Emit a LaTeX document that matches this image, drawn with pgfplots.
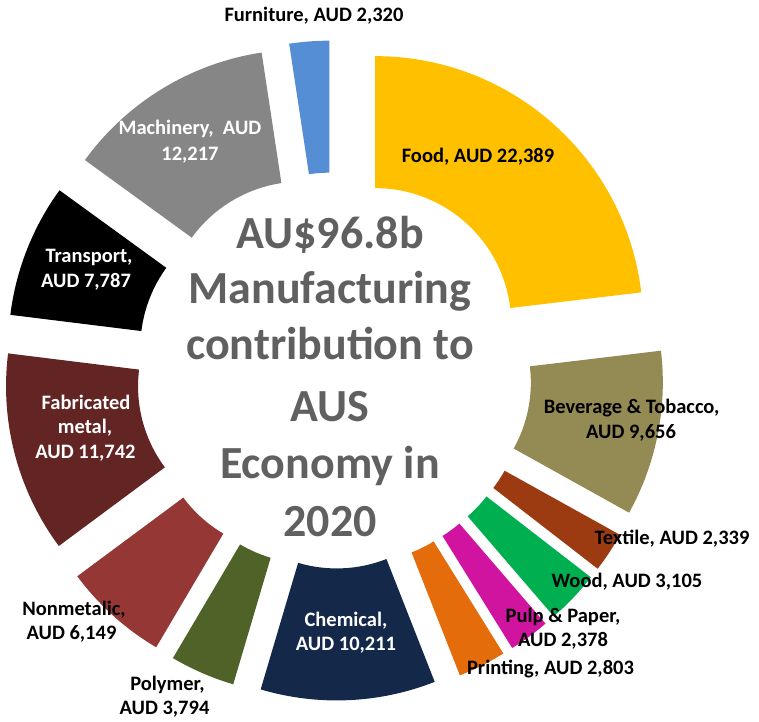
\documentclass[border=0pt]{standalone}
\usepackage{pgfplots}
\usepackage{pgfplotstable}
\pgfplotsset{compat=1.18}
\usepackage{fontspec}
\setmainfont{Carlito}

\definecolor{cFood}{RGB}{255,192,0}
\definecolor{cBev}{RGB}{148,138,84}
\definecolor{cTex}{RGB}{156,59,18}
\definecolor{cWood}{RGB}{0,176,80}
\definecolor{cPulp}{RGB}{208,20,160}
\definecolor{cPrint}{RGB}{228,108,10}
\definecolor{cChem}{RGB}{20,40,74}
\definecolor{cPoly}{RGB}{79,98,40}
\definecolor{cNonm}{RGB}{149,55,53}
\definecolor{cFab}{RGB}{99,37,35}
\definecolor{cTrans}{RGB}{0,0,0}
\definecolor{cMach}{RGB}{134,134,134}
\definecolor{cFurn}{RGB}{85,142,213}
\definecolor{cTitle}{RGB}{96,96,96}

\pgfplotstableread{
name value col
Food 22389 cFood
Beverage 9656 cBev
Textile 2339 cTex
Wood 3105 cWood
Pulp 2378 cPulp
Printing 2803 cPrint
Chemical 10211 cChem
Polymer 3794 cPoly
Nonmetalic 6149 cNonm
Fabricated 11742 cFab
Transport 7787 cTrans
Machinery 12217 cMach
Furniture 2320 cFurn
}\mfgdata

\newcommand\fpcalc[2]{{\pgfkeys{/pgf/fpu=true,/pgf/fpu/output format=fixed}\pgfmathparse{#2}\xdef#1{\pgfmathresult}}}

\begin{document}
\begin{tikzpicture}[
  lab/.style={font=\fontsize{20.5}{24}\selectfont\bfseries, anchor=base, inner sep=0pt},
  ttl/.style={font=\fontsize{46}{56}\selectfont\bfseries, text=cTitle, anchor=base, inner sep=0pt}]
\begin{axis}[
  scale only axis, width=759pt, height=721pt,
  xmin=0, xmax=759, ymin=0, ymax=721,
  hide axis, clip=false]
\path (rel axis cs:0,0) rectangle (rel axis cs:1,1);
\pgfplotsextra{
  \pgfplotstablegetrowsof{\mfgdata}\pgfmathtruncatemacro\last{\pgfplotsretval-1}
  \gdef\tot{0}
  \foreach \i in {0,...,\last}{
    \pgfplotstablegetelem{\i}{value}\of\mfgdata
    \fpcalc\tot{\tot+\pgfplotsretval}
  }
  \gdef\acc{90}
  \foreach \i in {0,...,\last}{
    \pgfplotstablegetelem{\i}{value}\of\mfgdata \let\v\pgfplotsretval
    \pgfplotstablegetelem{\i}{col}\of\mfgdata \edef\c{\pgfplotsretval}
    \fpcalc\s{\acc}
    \fpcalc\e{\acc-\v*360/\tot}
    \fpcalc\m{(\s+\e)/2}
    \fill[overlay, fill=\c, shift={(axis cs:334,350.5)}, shift={(\m:62pt)}]
      (\s:136pt) arc[start angle=\s, end angle=\e, radius=136pt]
      -- (\e:268pt) arc[start angle=\e, end angle=\s, radius=268pt] -- cycle;
    \xdef\acc{\e}
  }
}
% segment labels
\node[lab] at (axis cs:314,699.5) {Furniture, AUD 2,320};
\node[lab,text=white] at (axis cs:190,586) {Machinery,\ \ AUD};
\node[lab,text=white] at (axis cs:190,560.3) {12,217};
\node[lab] at (axis cs:478,558) {Food, AUD 22,389};
\node[lab,text=white] at (axis cs:89,458) {Transport,};
\node[lab,text=white] at (axis cs:86,433) {AUD 7,787};
\node[lab,text=white] at (axis cs:86,312) {Fabricated};
\node[lab,text=white] at (axis cs:85,288) {metal,};
\node[lab,text=white] at (axis cs:85.5,263) {AUD 11,742};
\node[lab] at (axis cs:74,106) {Nonmetalic,};
\node[lab] at (axis cs:71.5,82) {AUD 6,149};
\node[lab] at (axis cs:167.5,31) {Polymer,};
\node[lab] at (axis cs:164.5,7) {AUD 3,794};
\node[lab,text=white] at (axis cs:346,95) {Chemical,};
\node[lab,text=white] at (axis cs:346,71) {AUD 10,211};
\node[lab] at (axis cs:550.5,47) {Printing, AUD 2,803};
\node[lab] at (axis cs:563,99) {Pulp \& Paper,};
\node[lab] at (axis cs:563,74.3) {AUD 2,378};
\node[lab] at (axis cs:627,133.3) {Wood, AUD 3,105};
\node[lab] at (axis cs:672,177) {Textile, AUD 2,339};
\node[lab] at (axis cs:631.7,308) {Beverage \& Tobacco,};
\node[lab] at (axis cs:631,283) {AUD 9,656};
% centre title
\node[ttl] at (axis cs:330,472.7) {AU\$96.8b};
\node[ttl] at (axis cs:330,417.7) {Manufacturing};
\node[ttl] at (axis cs:330,362) {contribution to};
\node[ttl] at (axis cs:330,299.3) {AUS};
\node[ttl] at (axis cs:330,243) {Economy in};
\node[ttl] at (axis cs:330,184.3) {2020};
\end{axis}
\end{tikzpicture}
\end{document}
